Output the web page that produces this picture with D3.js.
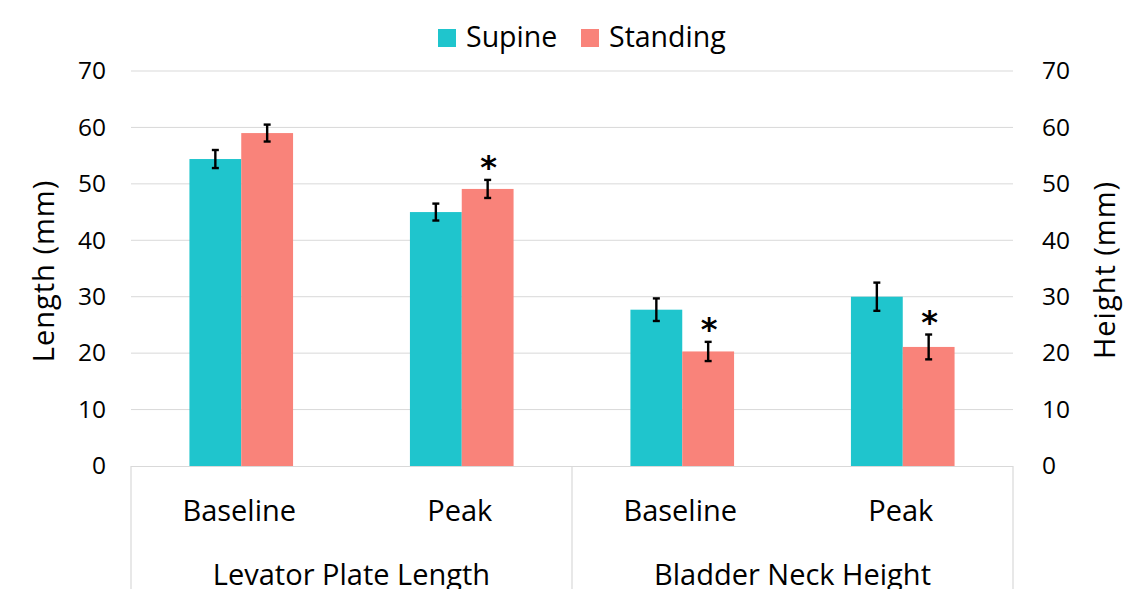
<!DOCTYPE html>
<html>
<head>
<meta charset="utf-8">
<script src="https://cdn.jsdelivr.net/npm/d3@7/dist/d3.min.js"></script>
<style>
  html, body { margin: 0; padding: 0; background: #fff; }
  svg { display: block; font-family: "Open Sans", "Noto Sans", sans-serif; }
</style>
</head>
<body>
<svg id="chart" width="1143" height="589"></svg>
<script>
// Measurements (mm): two metrics, each measured at baseline and at peak
const groups = ["Levator Plate Length", "Bladder Neck Height"];
const phases = ["Baseline", "Peak"];
const seriesNames = ["Supine", "Standing"];
const supineMean = [54.4, 45.0, 27.7, 30.0];
const supineErr = [1.6, 1.5, 2.0, 2.5];
const standingMean = [59.0, 49.1, 20.3, 21.1];
const standingErr = [1.5, 1.6, 1.7, 2.2];
const standingSignificant = [false, true, true, true];
const yTicks = [0, 10, 20, 30, 40, 50, 60, 70];
const colors = ["#1fc5cd", "#f9837a"];

const svg = d3.select("#chart");
const plotLeft = 131, plotRight = 1013, plotTop = 71, plotBottom = 466;

const categories = [];
groups.forEach(g => phases.forEach(p => categories.push(g + "|" + p)));

const x = d3.scaleBand().domain(categories).range([plotLeft, plotRight]).paddingInner(0.53).paddingOuter(0.265);
const xs = d3.scaleBand().domain(seriesNames).range([0, x.bandwidth()]);
const y = d3.scaleLinear().domain([0, 70]).range([plotBottom, plotTop]);

// gridlines
svg.append("g").selectAll("line").data(yTicks.filter(t => t > 0)).join("line")
  .attr("x1", plotLeft).attr("x2", plotRight)
  .attr("y1", d => y(d)).attr("y2", d => y(d))
  .attr("stroke", "#d9d9d9").attr("stroke-width", 1);

// left axis labels
const leftAxis = d3.axisLeft(y).tickValues(yTicks).tickSize(0).tickPadding(25);
const gl = svg.append("g").attr("transform", `translate(${plotLeft},0)`).call(leftAxis);
gl.select(".domain").remove();
gl.selectAll("text").attr("font-size", 24.5).attr("fill", "#000").attr("font-family", "Open Sans");

// right axis labels
const rightAxis = d3.axisRight(y).tickValues(yTicks).tickSize(0).tickPadding(29);
const gr = svg.append("g").attr("transform", `translate(${plotRight},0)`).call(rightAxis);
gr.select(".domain").remove();
gr.selectAll("text").attr("font-size", 24.5).attr("fill", "#000").attr("font-family", "Open Sans");

// bars
const rows = categories.map((c, i) => ({
  cat: c,
  vals: [
    { s: seriesNames[0], v: supineMean[i], e: supineErr[i], sig: false },
    { s: seriesNames[1], v: standingMean[i], e: standingErr[i], sig: standingSignificant[i] }
  ]
}));

const gBars = svg.append("g");
rows.forEach(r => {
  r.vals.forEach((d, j) => {
    const bx = x(r.cat) + xs(d.s);
    const bw = xs.bandwidth();
    gBars.append("rect")
      .attr("x", bx).attr("width", bw)
      .attr("y", y(d.v)).attr("height", y(0) - y(d.v))
      .attr("fill", colors[j]);
    const cx = bx + bw / 2;
    const eg = gBars.append("g").attr("stroke", "#000").attr("stroke-width", 2.4);
    eg.append("line").attr("x1", cx).attr("x2", cx).attr("y1", y(d.v + d.e)).attr("y2", y(d.v - d.e));
    eg.append("line").attr("x1", cx - 3.5).attr("x2", cx + 3.5).attr("y1", y(d.v + d.e)).attr("y2", y(d.v + d.e));
    eg.append("line").attr("x1", cx - 3.5).attr("x2", cx + 3.5).attr("y1", y(d.v - d.e)).attr("y2", y(d.v - d.e));
    if (d.sig) {
      gBars.append("text").attr("x", cx + 1).attr("y", y(d.v + d.e) - 2)
        .attr("text-anchor", "middle").attr("font-size", 32).attr("font-weight", "bold")
        .attr("font-family", "DejaVu Sans").text("*");
    }
  });
});

// category axis frame
const frame = svg.append("g").attr("stroke", "#d9d9d9").attr("stroke-width", 1.2);
frame.append("line").attr("x1", plotLeft).attr("x2", plotRight).attr("y1", plotBottom + 0.5).attr("y2", plotBottom + 0.5);
const mid = (plotLeft + plotRight) / 2;
[plotLeft, mid, plotRight].forEach(px => {
  frame.append("line").attr("x1", px).attr("x2", px).attr("y1", plotBottom).attr("y2", 589);
});

// phase labels
svg.append("g").selectAll("text").data(categories).join("text")
  .attr("x", d => x(d) + x.bandwidth() / 2 - 2)
  .attr("y", 521)
  .attr("text-anchor", "middle").attr("font-size", 29).attr("fill", "#000")
  .text(d => d.split("|")[1]);

// group labels
svg.append("g").selectAll("text").data(groups).join("text")
  .attr("x", (d, i) => plotLeft + (plotRight - plotLeft) / 4 * (2 * i + 1))
  .attr("y", 585)
  .attr("text-anchor", "middle").attr("font-size", 29).attr("fill", "#000")
  .text(d => d);

// axis titles
svg.append("text").attr("transform", `translate(54,271) rotate(-90)`)
  .attr("text-anchor", "middle").attr("font-size", 29).attr("letter-spacing", 1)
  .attr("fill", "#000").text("Length (mm)");
svg.append("text").attr("transform", `translate(1115,270) rotate(-90)`)
  .attr("text-anchor", "middle").attr("font-size", 29).attr("letter-spacing", 1)
  .attr("fill", "#000").text("Height (mm)");

// legend
const legend = svg.append("g");
const legendItems = [{ name: seriesNames[0], x: 438 }, { name: seriesNames[1], x: 581 }];
legendItems.forEach((it, i) => {
  legend.append("rect").attr("x", it.x).attr("y", 29).attr("width", 18).attr("height", 18).attr("fill", colors[i]);
  legend.append("text").attr("x", it.x + 28).attr("y", 47).attr("font-size", 28.5).attr("fill", "#000").text(it.name);
});
</script>
</body>
</html>
